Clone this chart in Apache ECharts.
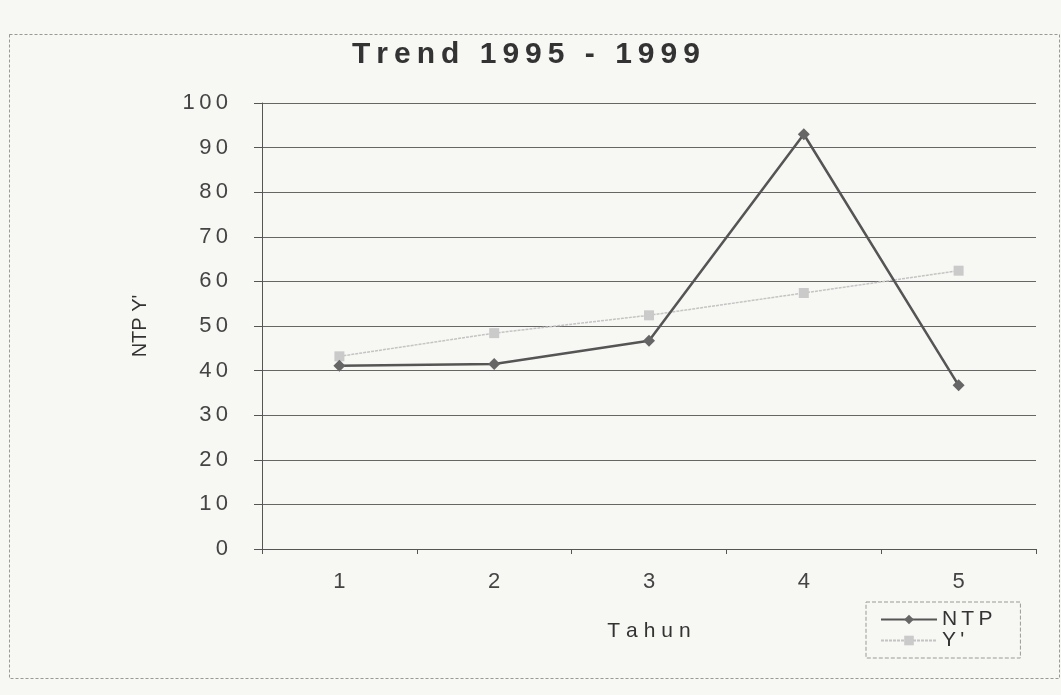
<!DOCTYPE html>
<html>
<head>
<meta charset="utf-8">
<script src="https://cdn.jsdelivr.net/npm/echarts@6/dist/echarts.min.js"></script>
<style>
html,body{margin:0;padding:0;background:#f7f7f4;}
#chart{width:1061px;height:695px;}
</style>
</head>
<body>
<div id="chart"></div>
<script>
// ---- data ----
var titleText = 'Trend 1995 - 1999';
var categories = ['1', '2', '3', '4', '5'];
var ntpValues = [41.1, 41.5, 46.7, 93, 36.7];
var trendValues = [43.2, 48.4, 52.4, 57.4, 62.4];
var yAxisTitle = "NTP Y'";
var xAxisTitle = 'Tahun';
var seriesNames = ['NTP', "Y'"];

var THIN = '\u2009';
var HAIR = '\u200A';
function spaced(s, gap) { return String(s).split('').join(gap); }

var FONT = '"Liberation Sans", Arial, sans-serif';
var chart = echarts.init(document.getElementById('chart'), null, {renderer: 'canvas'});

chart.setOption({
  backgroundColor: '#f7f7f4',
  animation: false,
  title: {
    text: spaced(titleText, THIN),
    left: 347, top: 35,
    textStyle: {fontFamily: FONT, fontSize: 30, fontWeight: 'bold', color: '#333'}
  },
  graphic: [{
    type: 'rect', left: 7, top: 32, z: -1,
    shape: {width: 1050, height: 644},
    style: {fill: 'none', stroke: '#999', lineWidth: 1, lineDash: [3, 2]}
  }],
  legend: {
    orient: 'vertical',
    left: 866, top: 602,
    padding: [7, 28, 7, 14],
    borderColor: '#999', borderWidth: 1, borderType: 'dashed',
    itemWidth: 56, itemHeight: 12, itemGap: 0,
    textStyle: {fontFamily: FONT, fontSize: 21, color: '#333', lineHeight: 19},
    formatter: function (n) { return spaced(n, THIN); },
    data: seriesNames
  },
  grid: {left: 262, right: 25, top: 103, bottom: 146, containLabel: false},
  xAxis: {
    type: 'category',
    data: categories,
    boundaryGap: true,
    name: spaced(xAxisTitle, THIN + HAIR),
    nameLocation: 'middle',
    nameGap: 72,
    nameTextStyle: {fontFamily: FONT, fontSize: 21, color: '#333'},
    axisLine: {lineStyle: {color: '#555', width: 1}},
    axisTick: {show: true, length: 5, alignWithLabel: false, lineStyle: {color: '#555'}},
    axisLabel: {fontFamily: FONT, fontSize: 22, color: '#444', margin: 22},
    splitLine: {show: false}
  },
  yAxis: {
    type: 'value',
    min: 0, max: 100, interval: 10,
    name: yAxisTitle,
    nameLocation: 'middle',
    nameGap: 112,
    nameRotate: 90,
    nameTextStyle: {fontFamily: FONT, fontSize: 20, color: '#333'},
    axisLine: {show: true, lineStyle: {color: '#555', width: 1}},
    axisTick: {show: true, length: 8, lineStyle: {color: '#555'}},
    axisLabel: {fontFamily: FONT, fontSize: 22, color: '#444', margin: 34,
      formatter: function (v) { return spaced(v, THIN); }},
    splitLine: {show: true, lineStyle: {color: '#666', width: 1}}
  },
  series: [
    {
      name: seriesNames[0], type: 'line', data: ntpValues,
      symbol: 'diamond', symbolSize: 12,
      lineStyle: {color: '#555', width: 2.5},
      itemStyle: {color: '#666'},
      z: 3
    },
    {
      name: seriesNames[1], type: 'line', data: trendValues,
      symbol: 'rect', symbolSize: 10,
      lineStyle: {color: '#c4c4c4', width: 1.5, type: [3, 1]},
      itemStyle: {color: '#cacaca'},
      z: 2
    }
  ]
});
</script>
</body>
</html>
